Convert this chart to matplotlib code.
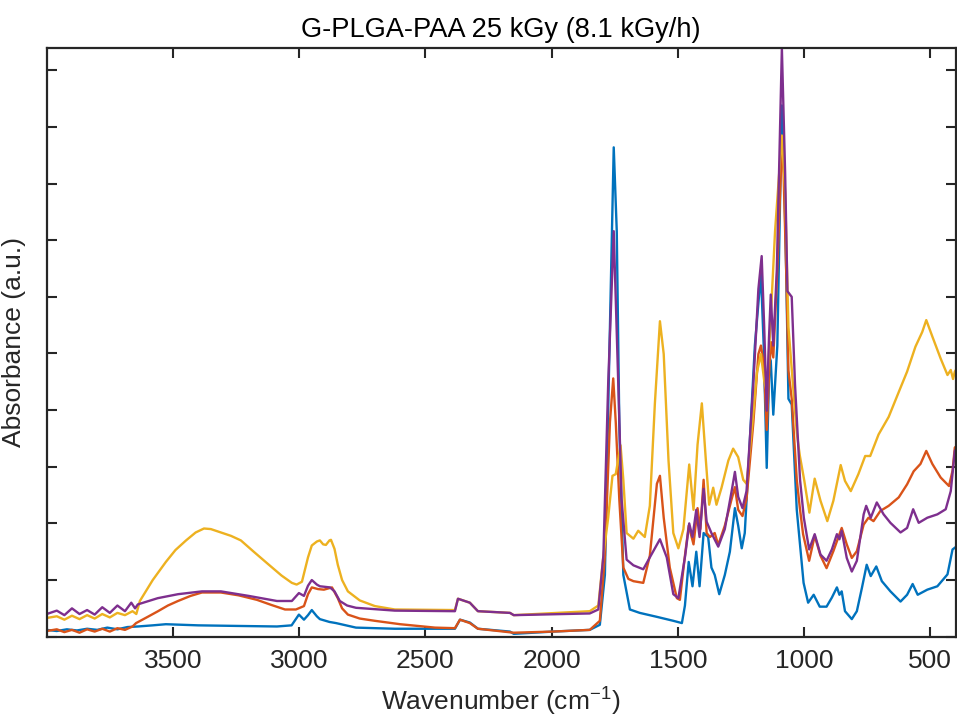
import matplotlib
matplotlib.use('Agg')
import matplotlib.pyplot as plt
import numpy as np

# FTIR spectra, values (wavenumber in cm-1, absorbance in a.u.)
wn_blue = [4000, 3960, 3920, 3880, 3840, 3800, 3760, 3720, 3680, 3639, 3580, 3528, 3400, 3250, 3088,
           3030, 3001, 2981, 2965, 2950, 2930, 2918, 2880, 2854, 2775, 2621, 2383, 2363, 2324, 2292,
           2165, 2150, 1995, 1849, 1809, 1789, 1777, 1761, 1754, 1742, 1732, 1716, 1690, 1651, 1583,
           1518, 1484, 1472, 1457, 1442, 1427, 1414, 1398, 1380, 1367, 1354, 1336, 1314, 1294, 1274,
           1261, 1247, 1235, 1215, 1195, 1171, 1160, 1148, 1137, 1132, 1122, 1106, 1088, 1082, 1071,
           1062, 1049, 1029, 1002, 984, 962, 938, 911, 890, 870, 860, 851, 838, 811, 791,
           771, 752, 736, 714, 692, 658, 618, 592, 570, 550, 512, 472, 432, 412, 403, 400]
abs_blue = [0.012, 0.010, 0.013, 0.011, 0.014, 0.012, 0.016, 0.013, 0.017, 0.018, 0.020, 0.022, 0.020, 0.019, 0.018,
            0.020, 0.039, 0.030, 0.038, 0.047, 0.036, 0.031, 0.026, 0.024, 0.016, 0.014, 0.014, 0.030, 0.025, 0.014,
            0.009, 0.005, 0.009, 0.012, 0.021, 0.109, 0.379, 0.716, 0.864, 0.716, 0.379, 0.109, 0.048, 0.042, 0.035,
            0.028, 0.024, 0.055, 0.132, 0.089, 0.150, 0.089, 0.183, 0.176, 0.122, 0.109, 0.075, 0.109, 0.150, 0.227,
            0.196, 0.156, 0.183, 0.345, 0.514, 0.642, 0.514, 0.298, 0.493, 0.487, 0.392, 0.514, 0.938, 0.885, 0.648,
            0.420, 0.410, 0.224, 0.095, 0.060, 0.074, 0.053, 0.053, 0.069, 0.087, 0.074, 0.080, 0.045, 0.031, 0.045,
            0.086, 0.127, 0.107, 0.124, 0.098, 0.080, 0.062, 0.074, 0.093, 0.074, 0.083, 0.089, 0.110, 0.154, 0.157, 0.158]

wn_orange = [4000, 3960, 3930, 3900, 3870, 3840, 3810, 3780, 3750, 3720, 3690, 3660, 3646, 3600, 3559,
             3520, 3480, 3430, 3385, 3310, 3240, 3167, 3110, 3056, 3013, 2981, 2965, 2950, 2925, 2902,
             2870, 2847, 2830, 2807, 2760, 2700, 2600, 2462, 2383, 2363, 2324, 2292, 2150, 1995, 1849,
             1809, 1789, 1769, 1756, 1746, 1732, 1716, 1696, 1676, 1637, 1611, 1583, 1571, 1556, 1532,
             1504, 1492, 1472, 1457, 1438, 1422, 1411, 1398, 1386, 1373, 1354, 1340, 1314, 1287, 1274,
             1261, 1244, 1228, 1201, 1181, 1171, 1159, 1148, 1137, 1131, 1122, 1106, 1088, 1082, 1071,
             1062, 1049, 1029, 1017, 1004, 980, 958, 935, 911, 884, 851, 831, 811, 791, 764,
             745, 725, 698, 665, 625, 592, 566, 539, 516, 492, 459, 426, 412, 403, 400]
abs_orange = [0.010, 0.013, 0.008, 0.012, 0.007, 0.013, 0.009, 0.014, 0.009, 0.015, 0.012, 0.018, 0.024, 0.035, 0.045,
              0.055, 0.063, 0.072, 0.078, 0.078, 0.073, 0.065, 0.056, 0.048, 0.048, 0.054, 0.075, 0.087, 0.084, 0.083,
              0.087, 0.068, 0.050, 0.039, 0.032, 0.028, 0.022, 0.016, 0.015, 0.030, 0.024, 0.014, 0.007, 0.009, 0.012,
              0.028, 0.143, 0.379, 0.456, 0.379, 0.243, 0.122, 0.102, 0.098, 0.095, 0.143, 0.270, 0.284, 0.210, 0.122,
              0.068, 0.065, 0.143, 0.196, 0.163, 0.227, 0.190, 0.277, 0.183, 0.176, 0.183, 0.162, 0.196, 0.243, 0.264,
              0.224, 0.213, 0.243, 0.378, 0.499, 0.514, 0.479, 0.365, 0.479, 0.520, 0.493, 0.648, 0.869, 0.830, 0.648,
              0.470, 0.420, 0.277, 0.228, 0.181, 0.134, 0.178, 0.143, 0.121, 0.151, 0.192, 0.163, 0.139, 0.151, 0.198,
              0.210, 0.204, 0.222, 0.231, 0.246, 0.269, 0.292, 0.305, 0.328, 0.305, 0.281, 0.266, 0.293, 0.334, 0.335]

wn_yellow = [4000, 3960, 3930, 3900, 3870, 3840, 3810, 3780, 3750, 3720, 3690, 3660, 3645, 3631, 3580,
             3528, 3490, 3448, 3410, 3377, 3350, 3310, 3270, 3231, 3180, 3120, 3070, 3029, 3010, 2989,
             2965, 2950, 2930, 2918, 2905, 2894, 2880, 2874, 2860, 2847, 2830, 2807, 2760, 2700, 2621,
             2383, 2371, 2324, 2292, 2165, 2150, 1849, 1815, 1795, 1776, 1759, 1746, 1727, 1716, 1703,
             1676, 1657, 1631, 1611, 1591, 1571, 1556, 1537, 1518, 1498, 1478, 1455, 1438, 1422, 1405,
             1389, 1376, 1360, 1347, 1327, 1300, 1281, 1261, 1241, 1228, 1207, 1187, 1171, 1158, 1148,
             1136, 1115, 1088, 1075, 1062, 1049, 1029, 1017, 999, 979, 958, 935, 908, 884, 855,
             838, 815, 785, 758, 738, 705, 665, 625, 592, 559, 532, 516, 492, 459, 432,
             419, 410, 403, 400]
abs_yellow = [0.033, 0.036, 0.030, 0.037, 0.031, 0.038, 0.032, 0.040, 0.034, 0.042, 0.038, 0.045, 0.040, 0.063, 0.100,
              0.132, 0.153, 0.170, 0.184, 0.191, 0.190, 0.184, 0.178, 0.170, 0.150, 0.127, 0.108, 0.095, 0.092, 0.097,
              0.140, 0.161, 0.168, 0.170, 0.163, 0.162, 0.170, 0.171, 0.155, 0.127, 0.100, 0.080, 0.064, 0.054, 0.048,
              0.047, 0.067, 0.060, 0.045, 0.042, 0.038, 0.045, 0.055, 0.143, 0.210, 0.284, 0.287, 0.338, 0.277, 0.183,
              0.173, 0.187, 0.176, 0.231, 0.412, 0.557, 0.499, 0.311, 0.183, 0.156, 0.190, 0.304, 0.224, 0.339, 0.412,
              0.311, 0.233, 0.263, 0.233, 0.263, 0.311, 0.332, 0.317, 0.277, 0.270, 0.365, 0.466, 0.499, 0.452, 0.432,
              0.528, 0.716, 0.885, 0.784, 0.547, 0.473, 0.360, 0.320, 0.275, 0.219, 0.279, 0.240, 0.204, 0.240, 0.303,
              0.275, 0.257, 0.287, 0.319, 0.319, 0.357, 0.388, 0.432, 0.468, 0.512, 0.538, 0.559, 0.530, 0.491, 0.462,
              0.471, 0.455, 0.468, 0.470]

wn_purple = [4000, 3960, 3930, 3900, 3870, 3840, 3810, 3780, 3750, 3720, 3690, 3665, 3650, 3639, 3560,
             3480, 3385, 3310, 3200, 3088, 3029, 3001, 2981, 2965, 2950, 2930, 2918, 2878, 2860, 2839,
             2810, 2775, 2621, 2383, 2371, 2324, 2292, 2165, 2150, 1849, 1815, 1795, 1776, 1754, 1736,
             1723, 1703, 1676, 1637, 1611, 1571, 1544, 1518, 1498, 1471, 1455, 1442, 1427, 1414, 1398,
             1386, 1367, 1340, 1314, 1287, 1274, 1261, 1244, 1228, 1201, 1181, 1168, 1158, 1148, 1139,
             1132, 1122, 1108, 1088, 1075, 1066, 1049, 1036, 1016, 1001, 980, 958, 935, 911, 890,
             870, 860, 851, 831, 811, 791, 764, 754, 736, 712, 685, 658, 618, 592, 568,
             546, 512, 472, 439, 419, 403, 400]
abs_purple = [0.040, 0.046, 0.038, 0.050, 0.040, 0.047, 0.039, 0.052, 0.042, 0.055, 0.045, 0.060, 0.050, 0.057, 0.068,
              0.075, 0.080, 0.080, 0.072, 0.063, 0.063, 0.077, 0.072, 0.090, 0.100, 0.092, 0.089, 0.087, 0.080, 0.063,
              0.055, 0.051, 0.046, 0.045, 0.067, 0.060, 0.045, 0.042, 0.038, 0.041, 0.048, 0.143, 0.446, 0.716, 0.446,
              0.243, 0.136, 0.126, 0.119, 0.140, 0.172, 0.140, 0.075, 0.068, 0.143, 0.200, 0.176, 0.224, 0.176, 0.261,
              0.203, 0.183, 0.159, 0.190, 0.257, 0.291, 0.247, 0.227, 0.257, 0.446, 0.614, 0.672, 0.547, 0.399, 0.528,
              0.604, 0.514, 0.648, 1.039, 0.817, 0.610, 0.600, 0.446, 0.277, 0.210, 0.154, 0.181, 0.145, 0.134, 0.154,
              0.181, 0.172, 0.187, 0.139, 0.115, 0.134, 0.216, 0.231, 0.210, 0.237, 0.216, 0.201, 0.184, 0.192, 0.225,
              0.201, 0.210, 0.216, 0.225, 0.257, 0.328, 0.330]

x_ticks = [3500, 3000, 2500, 2000, 1500, 1000, 500]
title = 'G-PLGA-PAA 25 kGy (8.1 kGy/h)'

plt.rcParams['font.family'] = ['Liberation Sans', 'DejaVu Sans']
plt.rcParams['mathtext.fontset'] = 'custom'
plt.rcParams['mathtext.rm'] = 'Liberation Sans'
plt.rcParams['mathtext.default'] = 'regular'

dark = '#262626'
fig = plt.figure(figsize=(9.57, 7.19), dpi=100)
ax = fig.add_axes([0.0488, 0.1145, 0.9497, 0.8192])

series = [(wn_blue, abs_blue, '#0072BD'),
          (wn_orange, abs_orange, '#D95319'),
          (wn_yellow, abs_yellow, '#EDB120'),
          (wn_purple, abs_purple, '#7E2F8E')]
for wn, ab, col in series:
    ax.plot(wn, ab, color=col, lw=1.7, solid_joinstyle='round')

ax.set_xlim(4000, 400)
ax.set_ylim(0, 1.04)
ax.set_xticks(x_ticks)
ax.set_yticks(np.arange(0, 1.01, 0.1))
ax.set_yticklabels([])
ax.tick_params(direction='in', length=7.2, width=1.5, top=True, right=True,
               labelsize=19, color=dark, labelcolor=dark, pad=9)
for sp in ax.spines.values():
    sp.set_linewidth(1.6)
    sp.set_color(dark)

ax.set_title(title, fontsize=19.6, pad=8, color='black')
ax.set_xlabel('Wavenumber (cm$^{-1}$)', fontsize=19, labelpad=9, color=dark)
ax.set_ylabel('Absorbance (a.u.)', fontsize=19, labelpad=6, color=dark)

fig.savefig('out.png', dpi=100)
